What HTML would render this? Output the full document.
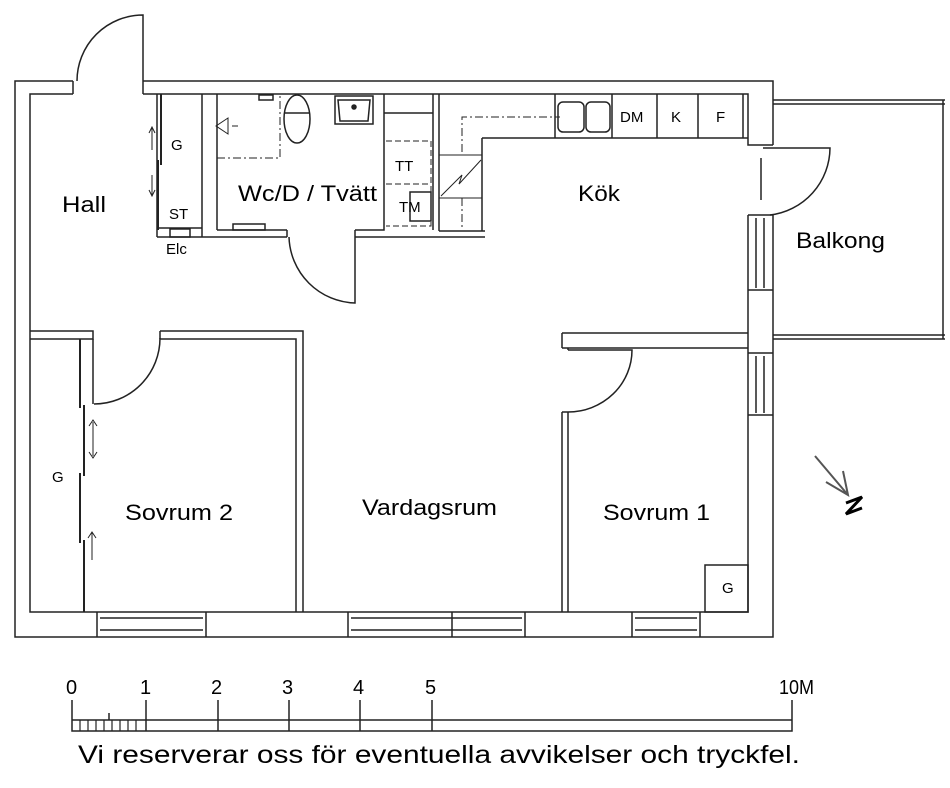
<!DOCTYPE html>
<html><head><meta charset="utf-8"><style>
html,body{margin:0;padding:0;background:#fff;width:950px;height:788px;overflow:hidden}
svg{display:block}
text{font-family:"Liberation Sans",sans-serif;fill:#000}
</style></head><body>
<svg width="950" height="788" viewBox="0 0 950 788" xmlns="http://www.w3.org/2000/svg">
<g fill="none" stroke="#222" stroke-width="1.5">
<path d="M73,81 H15 V637 H773 V415"/>
<path d="M143,81 H773 V145"/>
<path d="M73,94 H30 V612 H748 V415"/>
<path d="M143,94 H748 V145 H773"/>
<path d="M73,81 V94 M143,81 V94"/>
<path d="M143,81 V15 A66,66 0 0 0 77,81"/>
<path d="M748,215 H773 M748,215 V415 M773,215 V415 M748,290 H773 M748,353 H773 M748,415 H773"/>
<path d="M756,218 V288 M764,218 V288 M756,356 V413 M764,356 V413"/>
<path d="M761,158 V200"/>
<path d="M763,148 H830 A68,68 0 0 1 770,215"/>
<path d="M773,100 H945 M773,104 H945 M773,335 H945 M773,339 H945 M943,100 V339"/>
<path d="M97,612 V637 M206,612 V637 M348,612 V637 M525,612 V637 M632,612 V637 M700,612 V637 M452,612 V637"/>
<path d="M100,618 H203 M100,630 H203 M351,618 H522 M351,630 H522 M635,618 H697 M635,630 H697"/>
<path d="M30,331 H93 V339 H30 M160,331 H303 V612 M160,339 H296 V612 M160,331 V339"/>
<path d="M93,339 V404 M160,338 A66,66 0 0 1 94,404"/>
<path d="M80,339 V408 M84,405 V476 M80,473 V543 M84,540 V612" stroke-width="2"/>
<path d="M93,422 V456 M89,426 L93,420 L97,426 M89,452 L93,458 L97,452 M92,532 V560 M88,538 L92,532 L96,538" stroke-width="1"/>
<path d="M562,333 H748 M562,348 H748 M562,333 V348 M562,412 V612 M568,412 V612 M562,412 H568 M568,348 V350"/>
<path d="M568,350 H632 A64,62 0 0 1 568,412"/>
<rect x="705" y="565" width="43" height="47"/>
<path d="M157,94 V237 M202,94 V237 M217,94 V230 M157,237 H202 M157,228 H202"/>
<path d="M161,94 V165 M158,160 V230" stroke-width="2"/>
<path d="M152,128 V150 M149,133 L152,127 L155,133 M152,175 V195 M149,190 L152,196 L155,190" stroke-width="1"/>
<rect x="170" y="229" width="20" height="8"/>
<path d="M202,237 H287 M355,237 H485 M217,230 H287 M355,230 H384 V94 M287,230 V237 M355,230 V237"/>
<path d="M355,237 V303 A68,68 0 0 1 289,237"/>
<path d="M217,158 H280 V96" stroke-dasharray="8,3,2,3" stroke-width="1"/>
<path d="M228,118 L216,126 L228,134 Z M232,126 H238" stroke-width="1"/>
<rect x="259" y="95" width="14" height="5"/>
<rect x="233" y="224" width="32" height="6"/>
<ellipse cx="297" cy="119" rx="13" ry="24"/>
<path d="M285,113 H309"/>
<path d="M335,96 H373 V124 H335 Z M338,100 H370 L368,121 H340 Z"/>
<circle cx="354" cy="107" r="2" fill="#222"/>
<path d="M384,113 H433 V230 M433,94 V230 M439,94 V231"/>
<path d="M386,141 H431 V226 H386 M386,184 H431" stroke-dasharray="6,3" stroke-width="1"/>
<rect x="410" y="192" width="21" height="29"/>
<path d="M439,231 H485 M482,138 V231 M482,138 H748 M555,94 V138 M612,94 V138 M657,94 V138 M698,94 V138 M743,94 V138"/>
<path d="M439,155 H482 M439,198 H482 M441,196 L462,175 L459,184 L481,160" stroke-width="1"/>
<path d="M462,152 V117 H560 M462,198 V228" stroke-dasharray="8,3,2,3" stroke-width="1"/>
<rect x="558" y="102" width="26" height="30" rx="5"/>
<rect x="586" y="102" width="24" height="30" rx="5"/>
<path d="M815,456 L848,495 M843,471 L848,495 L826,482" stroke-width="2" stroke="#555"/>
<path d="M846,503 L862,497 L846,514 L862,508" stroke-width="3" stroke="#000"/>
<path d="M72,700 V731 H792 V700 M72,720 H792 M146,700 V731 M218,700 V731 M289,700 V731 M360,700 V731 M432,700 V731 M109,713 V720" stroke-width="1.5"/>
<path d="M80,720V731M88,720V731M96,720V731M104,720V731M112,720V731M120,720V731M128,720V731M136,720V731" stroke-width="1.2"/>
</g>
<g font-size="22">
<text x="62" y="212" textLength="44" lengthAdjust="spacingAndGlyphs">Hall</text>
<text x="238" y="201" textLength="139" lengthAdjust="spacingAndGlyphs">Wc/D / Tvätt</text>
<text x="578" y="201" textLength="42" lengthAdjust="spacingAndGlyphs">Kök</text>
<text x="796" y="248" textLength="89" lengthAdjust="spacingAndGlyphs">Balkong</text>
<text x="125" y="520" textLength="108" lengthAdjust="spacingAndGlyphs">Sovrum 2</text>
<text x="362" y="515" textLength="135" lengthAdjust="spacingAndGlyphs">Vardagsrum</text>
<text x="603" y="520" textLength="107" lengthAdjust="spacingAndGlyphs">Sovrum 1</text>
</g>
<g font-size="15">
<text x="171" y="150">G</text>
<text x="169" y="219">ST</text>
<text x="166" y="254">Elc</text>
<text x="395" y="171">TT</text>
<text x="399" y="212">TM</text>
<text x="620" y="122">DM</text>
<text x="671" y="122">K</text>
<text x="716" y="122">F</text>
<text x="52" y="482">G</text>
<text x="722" y="593">G</text>
</g>
<g font-size="20">
<text x="66" y="694">0</text><text x="140" y="694">1</text><text x="211" y="694">2</text>
<text x="282" y="694">3</text><text x="353" y="694">4</text><text x="425" y="694">5</text>
<text x="779" y="694" textLength="35" lengthAdjust="spacingAndGlyphs">10M</text>
</g>
<text x="78" y="763" font-size="25" textLength="722" lengthAdjust="spacingAndGlyphs">Vi reserverar oss för eventuella avvikelser och tryckfel.</text>
</svg>
</body></html>
